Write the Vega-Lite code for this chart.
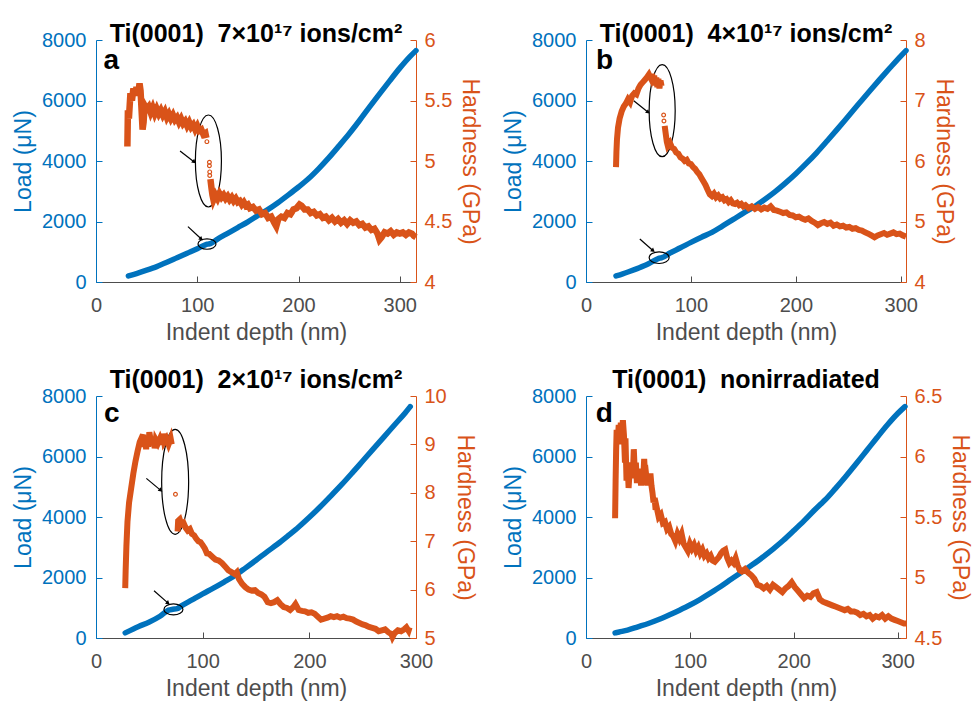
{
"$schema": "https://vega.github.io/schema/vega-lite/v6.json",
"padding": {"left": 12, "top": 22, "right": 5, "bottom": 5},
"config": {
 "view": {"stroke": null},
 "font": "Liberation Sans",
 "axis": {"grid": false, "labelFontSize": 20, "titleFontSize": 23, "titleFontWeight": "normal", "tickSize": -6, "labelPadding": 16, "domainWidth": 1, "tickWidth": 1, "titlePadding": 6, "labelFlush": false, "labelOverlap": false},
 "axisLeft": {"labelColor": "#0072BD", "domainColor": "#0072BD", "tickColor": "#0072BD", "titleColor": "#0072BD"},
 "axisRight": {"labelColor": "#D95319", "domainColor": "#D95319", "tickColor": "#D95319", "titleColor": "#D95319", "labelPadding": 14},
 "axisBottom": {"labelColor": "#4d4d4d", "domainColor": "#4d4d4d", "tickColor": "#4d4d4d", "titleColor": "#4d4d4d", "labelPadding": 19},
 "title": {"fontSize": 25, "fontWeight": "bold", "color": "black", "baseline": "alphabetic", "frame": "group", "anchor": "middle"}
},
"datasets": {
 "load": [
  {"p":"a","d":32,"L":200},{"p":"a","d":40,"L":280},{"p":"a","d":50,"L":390},{"p":"a","d":60,"L":510},{"p":"a","d":70,"L":650},{"p":"a","d":80,"L":800},{"p":"a","d":90,"L":950},{"p":"a","d":100,"L":1100},{"p":"a","d":108,"L":1230},{"p":"a","d":110,"L":1250},{"p":"a","d":113,"L":1270},{"p":"a","d":120,"L":1420},{"p":"a","d":130,"L":1610},{"p":"a","d":140,"L":1800},{"p":"a","d":150,"L":1990},{"p":"a","d":160,"L":2200},{"p":"a","d":170,"L":2400},{"p":"a","d":180,"L":2630},{"p":"a","d":190,"L":2880},{"p":"a","d":200,"L":3140},{"p":"a","d":210,"L":3420},{"p":"a","d":220,"L":3750},{"p":"a","d":230,"L":4110},{"p":"a","d":240,"L":4500},{"p":"a","d":250,"L":4900},{"p":"a","d":260,"L":5330},{"p":"a","d":270,"L":5780},{"p":"a","d":280,"L":6220},{"p":"a","d":290,"L":6650},{"p":"a","d":300,"L":7070},{"p":"a","d":310,"L":7450},{"p":"a","d":316,"L":7650},
  {"p":"b","d":28.6,"L":200},{"p":"b","d":35,"L":270},{"p":"b","d":40,"L":330},{"p":"b","d":50,"L":460},{"p":"b","d":60,"L":610},{"p":"b","d":68,"L":760},{"p":"b","d":70,"L":790},{"p":"b","d":72,"L":800},{"p":"b","d":80,"L":960},{"p":"b","d":90,"L":1130},{"p":"b","d":100,"L":1310},{"p":"b","d":110,"L":1480},{"p":"b","d":120,"L":1640},{"p":"b","d":130,"L":1850},{"p":"b","d":140,"L":2060},{"p":"b","d":150,"L":2280},{"p":"b","d":160,"L":2480},{"p":"b","d":170,"L":2720},{"p":"b","d":180,"L":2980},{"p":"b","d":190,"L":3270},{"p":"b","d":200,"L":3580},{"p":"b","d":210,"L":3920},{"p":"b","d":220,"L":4280},{"p":"b","d":230,"L":4670},{"p":"b","d":240,"L":5070},{"p":"b","d":250,"L":5480},{"p":"b","d":260,"L":5890},{"p":"b","d":270,"L":6300},{"p":"b","d":280,"L":6700},{"p":"b","d":290,"L":7090},{"p":"b","d":300,"L":7470},{"p":"b","d":305,"L":7650},
  {"p":"c","d":27.4,"L":170},{"p":"c","d":35,"L":300},{"p":"c","d":40,"L":380},{"p":"c","d":50,"L":530},{"p":"c","d":60,"L":720},{"p":"c","d":68,"L":920},{"p":"c","d":72,"L":950},{"p":"c","d":76,"L":970},{"p":"c","d":80,"L":1060},{"p":"c","d":90,"L":1260},{"p":"c","d":100,"L":1460},{"p":"c","d":110,"L":1650},{"p":"c","d":120,"L":1850},{"p":"c","d":130,"L":2060},{"p":"c","d":140,"L":2310},{"p":"c","d":150,"L":2570},{"p":"c","d":160,"L":2840},{"p":"c","d":170,"L":3100},{"p":"c","d":180,"L":3380},{"p":"c","d":190,"L":3670},{"p":"c","d":200,"L":3990},{"p":"c","d":210,"L":4330},{"p":"c","d":220,"L":4690},{"p":"c","d":230,"L":5060},{"p":"c","d":240,"L":5450},{"p":"c","d":250,"L":5850},{"p":"c","d":260,"L":6250},{"p":"c","d":270,"L":6650},{"p":"c","d":280,"L":7050},{"p":"c","d":290,"L":7450},{"p":"c","d":294.6,"L":7650},
  {"p":"d","d":28,"L":170},{"p":"d","d":32,"L":200},{"p":"d","d":40,"L":260},{"p":"d","d":50,"L":370},{"p":"d","d":60,"L":480},{"p":"d","d":70,"L":610},{"p":"d","d":80,"L":760},{"p":"d","d":90,"L":920},{"p":"d","d":100,"L":1090},{"p":"d","d":110,"L":1280},{"p":"d","d":120,"L":1490},{"p":"d","d":130,"L":1710},{"p":"d","d":140,"L":1950},{"p":"d","d":150,"L":2180},{"p":"d","d":160,"L":2420},{"p":"d","d":170,"L":2670},{"p":"d","d":180,"L":2940},{"p":"d","d":190,"L":3230},{"p":"d","d":200,"L":3550},{"p":"d","d":210,"L":3880},{"p":"d","d":220,"L":4230},{"p":"d","d":226,"L":4430},{"p":"d","d":230,"L":4560},{"p":"d","d":240,"L":4940},{"p":"d","d":250,"L":5340},{"p":"d","d":260,"L":5760},{"p":"d","d":270,"L":6190},{"p":"d","d":280,"L":6620},{"p":"d","d":290,"L":7040},{"p":"d","d":300,"L":7420},{"p":"d","d":307,"L":7650}
 ],
 "hard": [
  {"p":"a","s":1,"d":31,"H":5.12},{"p":"a","s":1,"d":31.5,"H":5.42},{"p":"a","s":1,"d":32.5,"H":5.35},{"p":"a","s":1,"d":34,"H":5.56},{"p":"a","s":1,"d":35.5,"H":5.5},{"p":"a","s":1,"d":37,"H":5.6},{"p":"a","s":1,"d":38.5,"H":5.54},{"p":"a","s":1,"d":40,"H":5.61},{"p":"a","s":1,"d":41.5,"H":5.55},{"p":"a","s":1,"d":43,"H":5.64},{"p":"a","s":1,"d":44,"H":5.58},{"p":"a","s":1,"d":45,"H":5.42},{"p":"a","s":1,"d":46,"H":5.26},{"p":"a","s":1,"d":47,"H":5.32},{"p":"a","s":1,"d":48,"H":5.46},{"p":"a","s":1,"d":50,"H":5.43},{"p":"a","s":1,"d":52,"H":5.45},{"p":"a","s":1,"d":54,"H":5.4},{"p":"a","s":1,"d":56,"H":5.44},{"p":"a","s":1,"d":58,"H":5.39},{"p":"a","s":1,"d":60,"H":5.43},{"p":"a","s":1,"d":62,"H":5.39},{"p":"a","s":1,"d":64,"H":5.42},{"p":"a","s":1,"d":66,"H":5.38},{"p":"a","s":1,"d":68,"H":5.41},{"p":"a","s":1,"d":70,"H":5.36},{"p":"a","s":1,"d":72,"H":5.39},{"p":"a","s":1,"d":74,"H":5.35},{"p":"a","s":1,"d":76,"H":5.38},{"p":"a","s":1,"d":78,"H":5.34},{"p":"a","s":1,"d":80,"H":5.36},{"p":"a","s":1,"d":82,"H":5.32},{"p":"a","s":1,"d":84,"H":5.35},{"p":"a","s":1,"d":86,"H":5.31},{"p":"a","s":1,"d":88,"H":5.33},{"p":"a","s":1,"d":90,"H":5.29},{"p":"a","s":1,"d":92,"H":5.32},{"p":"a","s":1,"d":94,"H":5.28},{"p":"a","s":1,"d":96,"H":5.3},{"p":"a","s":1,"d":98,"H":5.26},{"p":"a","s":1,"d":100,"H":5.29},{"p":"a","s":1,"d":102,"H":5.25},{"p":"a","s":1,"d":104,"H":5.26},{"p":"a","s":1,"d":106,"H":5.22},{"p":"a","s":1,"d":108,"H":5.23},{"p":"a","s":1,"d":109,"H":5.19},
  {"p":"a","s":2,"d":113,"H":4.85},{"p":"a","s":2,"d":114,"H":4.78},{"p":"a","s":2,"d":115,"H":4.72},{"p":"a","s":2,"d":116,"H":4.68},{"p":"a","s":2,"d":118,"H":4.72},{"p":"a","s":2,"d":120,"H":4.69},{"p":"a","s":2,"d":122,"H":4.73},{"p":"a","s":2,"d":124,"H":4.7},{"p":"a","s":2,"d":126,"H":4.72},{"p":"a","s":2,"d":128,"H":4.69},{"p":"a","s":2,"d":130,"H":4.71},{"p":"a","s":2,"d":132,"H":4.68},{"p":"a","s":2,"d":134,"H":4.7},{"p":"a","s":2,"d":136,"H":4.67},{"p":"a","s":2,"d":138,"H":4.69},{"p":"a","s":2,"d":140,"H":4.66},{"p":"a","s":2,"d":142,"H":4.67},{"p":"a","s":2,"d":144,"H":4.64},{"p":"a","s":2,"d":146,"H":4.66},{"p":"a","s":2,"d":148,"H":4.63},{"p":"a","s":2,"d":150,"H":4.64},{"p":"a","s":2,"d":152,"H":4.61},{"p":"a","s":2,"d":155,"H":4.62},{"p":"a","s":2,"d":158,"H":4.59},{"p":"a","s":2,"d":161,"H":4.6},{"p":"a","s":2,"d":164,"H":4.56},{"p":"a","s":2,"d":167,"H":4.57},{"p":"a","s":2,"d":170,"H":4.53},{"p":"a","s":2,"d":173,"H":4.54},{"p":"a","s":2,"d":176,"H":4.49},{"p":"a","s":2,"d":178,"H":4.46},{"p":"a","s":2,"d":180,"H":4.52},{"p":"a","s":2,"d":183,"H":4.54},{"p":"a","s":2,"d":186,"H":4.53},{"p":"a","s":2,"d":189,"H":4.57},{"p":"a","s":2,"d":192,"H":4.56},{"p":"a","s":2,"d":195,"H":4.6},{"p":"a","s":2,"d":198,"H":4.61},{"p":"a","s":2,"d":201,"H":4.64},{"p":"a","s":2,"d":203,"H":4.63},{"p":"a","s":2,"d":206,"H":4.6},{"p":"a","s":2,"d":209,"H":4.6},{"p":"a","s":2,"d":212,"H":4.57},{"p":"a","s":2,"d":215,"H":4.58},{"p":"a","s":2,"d":218,"H":4.55},{"p":"a","s":2,"d":221,"H":4.56},{"p":"a","s":2,"d":224,"H":4.53},{"p":"a","s":2,"d":227,"H":4.54},{"p":"a","s":2,"d":230,"H":4.51},{"p":"a","s":2,"d":233,"H":4.53},{"p":"a","s":2,"d":236,"H":4.5},{"p":"a","s":2,"d":239,"H":4.52},{"p":"a","s":2,"d":242,"H":4.49},{"p":"a","s":2,"d":245,"H":4.51},{"p":"a","s":2,"d":248,"H":4.48},{"p":"a","s":2,"d":251,"H":4.51},{"p":"a","s":2,"d":254,"H":4.49},{"p":"a","s":2,"d":257,"H":4.5},{"p":"a","s":2,"d":260,"H":4.47},{"p":"a","s":2,"d":263,"H":4.48},{"p":"a","s":2,"d":266,"H":4.45},{"p":"a","s":2,"d":269,"H":4.46},{"p":"a","s":2,"d":272,"H":4.43},{"p":"a","s":2,"d":275,"H":4.44},{"p":"a","s":2,"d":278,"H":4.4},{"p":"a","s":2,"d":280,"H":4.35},{"p":"a","s":2,"d":282,"H":4.37},{"p":"a","s":2,"d":285,"H":4.41},{"p":"a","s":2,"d":288,"H":4.4},{"p":"a","s":2,"d":291,"H":4.42},{"p":"a","s":2,"d":294,"H":4.39},{"p":"a","s":2,"d":297,"H":4.41},{"p":"a","s":2,"d":300,"H":4.4},{"p":"a","s":2,"d":303,"H":4.41},{"p":"a","s":2,"d":306,"H":4.39},{"p":"a","s":2,"d":309,"H":4.41},{"p":"a","s":2,"d":312,"H":4.4},{"p":"a","s":2,"d":314,"H":4.38},{"p":"a","s":2,"d":316,"H":4.37},
  {"p":"b","s":1,"d":28.6,"H":5.9},{"p":"b","s":1,"d":29,"H":6.15},{"p":"b","s":1,"d":29.5,"H":6.35},{"p":"b","s":1,"d":30.5,"H":6.55},{"p":"b","s":1,"d":32,"H":6.7},{"p":"b","s":1,"d":34,"H":6.82},{"p":"b","s":1,"d":36,"H":6.9},{"p":"b","s":1,"d":38,"H":6.95},{"p":"b","s":1,"d":40,"H":7.02},{"p":"b","s":1,"d":42,"H":6.97},{"p":"b","s":1,"d":44,"H":7.08},{"p":"b","s":1,"d":46,"H":7.12},{"p":"b","s":1,"d":48,"H":7.1},{"p":"b","s":1,"d":50,"H":7.2},{"p":"b","s":1,"d":52,"H":7.26},{"p":"b","s":1,"d":54,"H":7.3},{"p":"b","s":1,"d":56,"H":7.34},{"p":"b","s":1,"d":58,"H":7.38},{"p":"b","s":1,"d":60,"H":7.43},{"p":"b","s":1,"d":62,"H":7.36},{"p":"b","s":1,"d":63,"H":7.44},{"p":"b","s":1,"d":64,"H":7.3},{"p":"b","s":1,"d":65,"H":7.41},{"p":"b","s":1,"d":66,"H":7.25},{"p":"b","s":1,"d":67,"H":7.38},{"p":"b","s":1,"d":68,"H":7.22},{"p":"b","s":1,"d":69,"H":7.36},{"p":"b","s":1,"d":70,"H":7.2},{"p":"b","s":1,"d":71,"H":7.33},{"p":"b","s":1,"d":72,"H":7.24},
  {"p":"b","s":2,"d":75,"H":6.58},{"p":"b","s":2,"d":76,"H":6.45},{"p":"b","s":2,"d":77,"H":6.32},{"p":"b","s":2,"d":78,"H":6.25},{"p":"b","s":2,"d":80,"H":6.3},{"p":"b","s":2,"d":82,"H":6.22},{"p":"b","s":2,"d":84,"H":6.2},{"p":"b","s":2,"d":86,"H":6.14},{"p":"b","s":2,"d":88,"H":6.12},{"p":"b","s":2,"d":90,"H":6.06},{"p":"b","s":2,"d":92,"H":6.04},{"p":"b","s":2,"d":94,"H":6},{"p":"b","s":2,"d":96,"H":6.02},{"p":"b","s":2,"d":98,"H":5.96},{"p":"b","s":2,"d":100,"H":5.95},{"p":"b","s":2,"d":102,"H":5.9},{"p":"b","s":2,"d":104,"H":5.87},{"p":"b","s":2,"d":106,"H":5.82},{"p":"b","s":2,"d":108,"H":5.78},{"p":"b","s":2,"d":110,"H":5.72},{"p":"b","s":2,"d":112,"H":5.66},{"p":"b","s":2,"d":114,"H":5.6},{"p":"b","s":2,"d":116,"H":5.52},{"p":"b","s":2,"d":118,"H":5.45},{"p":"b","s":2,"d":120,"H":5.42},{"p":"b","s":2,"d":122,"H":5.46},{"p":"b","s":2,"d":124,"H":5.4},{"p":"b","s":2,"d":126,"H":5.43},{"p":"b","s":2,"d":128,"H":5.38},{"p":"b","s":2,"d":130,"H":5.4},{"p":"b","s":2,"d":132,"H":5.35},{"p":"b","s":2,"d":134,"H":5.37},{"p":"b","s":2,"d":136,"H":5.32},{"p":"b","s":2,"d":138,"H":5.35},{"p":"b","s":2,"d":140,"H":5.3},{"p":"b","s":2,"d":142,"H":5.29},{"p":"b","s":2,"d":144,"H":5.31},{"p":"b","s":2,"d":146,"H":5.27},{"p":"b","s":2,"d":148,"H":5.29},{"p":"b","s":2,"d":150,"H":5.25},{"p":"b","s":2,"d":152,"H":5.27},{"p":"b","s":2,"d":155,"H":5.22},{"p":"b","s":2,"d":158,"H":5.25},{"p":"b","s":2,"d":161,"H":5.21},{"p":"b","s":2,"d":164,"H":5.24},{"p":"b","s":2,"d":167,"H":5.2},{"p":"b","s":2,"d":170,"H":5.23},{"p":"b","s":2,"d":173,"H":5.21},{"p":"b","s":2,"d":176,"H":5.25},{"p":"b","s":2,"d":179,"H":5.19},{"p":"b","s":2,"d":182,"H":5.18},{"p":"b","s":2,"d":185,"H":5.16},{"p":"b","s":2,"d":188,"H":5.14},{"p":"b","s":2,"d":191,"H":5.15},{"p":"b","s":2,"d":194,"H":5.11},{"p":"b","s":2,"d":197,"H":5.1},{"p":"b","s":2,"d":200,"H":5.07},{"p":"b","s":2,"d":203,"H":5.08},{"p":"b","s":2,"d":206,"H":5.05},{"p":"b","s":2,"d":209,"H":5.03},{"p":"b","s":2,"d":212,"H":5.05},{"p":"b","s":2,"d":215,"H":5.01},{"p":"b","s":2,"d":218,"H":4.98},{"p":"b","s":2,"d":221,"H":4.94},{"p":"b","s":2,"d":224,"H":4.97},{"p":"b","s":2,"d":227,"H":4.99},{"p":"b","s":2,"d":230,"H":4.96},{"p":"b","s":2,"d":233,"H":4.98},{"p":"b","s":2,"d":236,"H":4.93},{"p":"b","s":2,"d":239,"H":4.95},{"p":"b","s":2,"d":242,"H":4.92},{"p":"b","s":2,"d":245,"H":4.93},{"p":"b","s":2,"d":248,"H":4.9},{"p":"b","s":2,"d":251,"H":4.91},{"p":"b","s":2,"d":254,"H":4.88},{"p":"b","s":2,"d":257,"H":4.89},{"p":"b","s":2,"d":260,"H":4.86},{"p":"b","s":2,"d":263,"H":4.85},{"p":"b","s":2,"d":266,"H":4.82},{"p":"b","s":2,"d":269,"H":4.8},{"p":"b","s":2,"d":272,"H":4.77},{"p":"b","s":2,"d":275,"H":4.74},{"p":"b","s":2,"d":278,"H":4.77},{"p":"b","s":2,"d":281,"H":4.79},{"p":"b","s":2,"d":284,"H":4.81},{"p":"b","s":2,"d":287,"H":4.78},{"p":"b","s":2,"d":290,"H":4.8},{"p":"b","s":2,"d":293,"H":4.82},{"p":"b","s":2,"d":296,"H":4.79},{"p":"b","s":2,"d":299,"H":4.8},{"p":"b","s":2,"d":302,"H":4.77},{"p":"b","s":2,"d":305,"H":4.75},
  {"p":"c","s":1,"d":27.4,"H":6.03},{"p":"c","s":1,"d":27.8,"H":6.4},{"p":"c","s":1,"d":28.5,"H":6.9},{"p":"c","s":1,"d":29.5,"H":7.4},{"p":"c","s":1,"d":31,"H":7.8},{"p":"c","s":1,"d":33,"H":8.1},{"p":"c","s":1,"d":35,"H":8.4},{"p":"c","s":1,"d":37,"H":8.65},{"p":"c","s":1,"d":39,"H":8.86},{"p":"c","s":1,"d":41,"H":9.05},{"p":"c","s":1,"d":43,"H":9.15},{"p":"c","s":1,"d":44,"H":9.2},{"p":"c","s":1,"d":45,"H":8.95},{"p":"c","s":1,"d":46,"H":9.15},{"p":"c","s":1,"d":47,"H":8.9},{"p":"c","s":1,"d":48,"H":9.18},{"p":"c","s":1,"d":49,"H":8.95},{"p":"c","s":1,"d":50,"H":9.25},{"p":"c","s":1,"d":52,"H":9.0},{"p":"c","s":1,"d":54,"H":9.15},{"p":"c","s":1,"d":55,"H":8.92},{"p":"c","s":1,"d":56,"H":9.1},{"p":"c","s":1,"d":58,"H":9.02},{"p":"c","s":1,"d":60,"H":9.12},{"p":"c","s":1,"d":62,"H":9.0},{"p":"c","s":1,"d":63,"H":9.22},{"p":"c","s":1,"d":64,"H":9.05},{"p":"c","s":1,"d":66,"H":9.12},{"p":"c","s":1,"d":68,"H":9.0},{"p":"c","s":1,"d":70,"H":9.12},{"p":"c","s":1,"d":71,"H":9.0},
  {"p":"c","s":2,"d":76.5,"H":7.2},{"p":"c","s":2,"d":77,"H":7.42},{"p":"c","s":2,"d":78.5,"H":7.45},{"p":"c","s":2,"d":80,"H":7.35},{"p":"c","s":2,"d":82,"H":7.38},{"p":"c","s":2,"d":84,"H":7.28},{"p":"c","s":2,"d":86,"H":7.22},{"p":"c","s":2,"d":88,"H":7.25},{"p":"c","s":2,"d":90,"H":7.15},{"p":"c","s":2,"d":92,"H":7.12},{"p":"c","s":2,"d":94,"H":7.05},{"p":"c","s":2,"d":96,"H":7.0},{"p":"c","s":2,"d":98,"H":6.98},{"p":"c","s":2,"d":100,"H":6.92},{"p":"c","s":2,"d":102,"H":6.85},{"p":"c","s":2,"d":104,"H":6.75},{"p":"c","s":2,"d":106,"H":6.74},{"p":"c","s":2,"d":108,"H":6.7},{"p":"c","s":2,"d":110,"H":6.66},{"p":"c","s":2,"d":112,"H":6.62},{"p":"c","s":2,"d":115,"H":6.6},{"p":"c","s":2,"d":118,"H":6.55},{"p":"c","s":2,"d":121,"H":6.48},{"p":"c","s":2,"d":124,"H":6.4},{"p":"c","s":2,"d":127,"H":6.36},{"p":"c","s":2,"d":130,"H":6.32},{"p":"c","s":2,"d":132,"H":6.36},{"p":"c","s":2,"d":134,"H":6.22},{"p":"c","s":2,"d":137,"H":6.12},{"p":"c","s":2,"d":140,"H":6.05},{"p":"c","s":2,"d":143,"H":6.0},{"p":"c","s":2,"d":146,"H":5.98},{"p":"c","s":2,"d":149,"H":5.99},{"p":"c","s":2,"d":152,"H":5.93},{"p":"c","s":2,"d":155,"H":5.9},{"p":"c","s":2,"d":158,"H":5.85},{"p":"c","s":2,"d":161,"H":5.74},{"p":"c","s":2,"d":164,"H":5.72},{"p":"c","s":2,"d":167,"H":5.74},{"p":"c","s":2,"d":170,"H":5.78},{"p":"c","s":2,"d":173,"H":5.7},{"p":"c","s":2,"d":176,"H":5.64},{"p":"c","s":2,"d":179,"H":5.62},{"p":"c","s":2,"d":182,"H":5.58},{"p":"c","s":2,"d":185,"H":5.64},{"p":"c","s":2,"d":187,"H":5.7},{"p":"c","s":2,"d":190,"H":5.58},{"p":"c","s":2,"d":193,"H":5.56},{"p":"c","s":2,"d":196,"H":5.55},{"p":"c","s":2,"d":199,"H":5.52},{"p":"c","s":2,"d":202,"H":5.53},{"p":"c","s":2,"d":205,"H":5.5},{"p":"c","s":2,"d":208,"H":5.44},{"p":"c","s":2,"d":211,"H":5.38},{"p":"c","s":2,"d":214,"H":5.4},{"p":"c","s":2,"d":217,"H":5.42},{"p":"c","s":2,"d":220,"H":5.45},{"p":"c","s":2,"d":223,"H":5.43},{"p":"c","s":2,"d":226,"H":5.45},{"p":"c","s":2,"d":229,"H":5.42},{"p":"c","s":2,"d":232,"H":5.44},{"p":"c","s":2,"d":235,"H":5.41},{"p":"c","s":2,"d":238,"H":5.4},{"p":"c","s":2,"d":241,"H":5.38},{"p":"c","s":2,"d":244,"H":5.34},{"p":"c","s":2,"d":247,"H":5.31},{"p":"c","s":2,"d":250,"H":5.28},{"p":"c","s":2,"d":253,"H":5.26},{"p":"c","s":2,"d":256,"H":5.23},{"p":"c","s":2,"d":259,"H":5.21},{"p":"c","s":2,"d":262,"H":5.19},{"p":"c","s":2,"d":265,"H":5.14},{"p":"c","s":2,"d":268,"H":5.16},{"p":"c","s":2,"d":271,"H":5.18},{"p":"c","s":2,"d":274,"H":5.12},{"p":"c","s":2,"d":277,"H":5.08},{"p":"c","s":2,"d":278,"H":5.02},{"p":"c","s":2,"d":280,"H":5.1},{"p":"c","s":2,"d":283,"H":5.16},{"p":"c","s":2,"d":286,"H":5.14},{"p":"c","s":2,"d":289,"H":5.18},{"p":"c","s":2,"d":291,"H":5.22},{"p":"c","s":2,"d":293,"H":5.15},{"p":"c","s":2,"d":294,"H":5.22},
  {"p":"d","s":1,"d":28,"H":5.49},{"p":"d","s":1,"d":28.5,"H":5.8},{"p":"d","s":1,"d":29,"H":6.05},{"p":"d","s":1,"d":29.5,"H":6.22},{"p":"d","s":1,"d":30.5,"H":6.12},{"p":"d","s":1,"d":31.5,"H":6.26},{"p":"d","s":1,"d":32.5,"H":6.1},{"p":"d","s":1,"d":33.5,"H":6.28},{"p":"d","s":1,"d":34.5,"H":6.15},{"p":"d","s":1,"d":35.5,"H":6.3},{"p":"d","s":1,"d":36.5,"H":6.18},{"p":"d","s":1,"d":37.5,"H":5.95},{"p":"d","s":1,"d":38,"H":6.15},{"p":"d","s":1,"d":39,"H":5.8},{"p":"d","s":1,"d":40,"H":5.95},{"p":"d","s":1,"d":41,"H":5.74},{"p":"d","s":1,"d":42,"H":5.88},{"p":"d","s":1,"d":43,"H":5.85},{"p":"d","s":1,"d":44,"H":5.95},{"p":"d","s":1,"d":45,"H":5.82},{"p":"d","s":1,"d":46,"H":6.06},{"p":"d","s":1,"d":47,"H":5.86},{"p":"d","s":1,"d":48,"H":5.95},{"p":"d","s":1,"d":49,"H":5.78},{"p":"d","s":1,"d":50,"H":5.9},{"p":"d","s":1,"d":51,"H":5.8},{"p":"d","s":1,"d":52,"H":5.86},{"p":"d","s":1,"d":53,"H":5.76},{"p":"d","s":1,"d":54,"H":5.88},{"p":"d","s":1,"d":55,"H":5.8},{"p":"d","s":1,"d":56,"H":5.98},{"p":"d","s":1,"d":57,"H":5.82},{"p":"d","s":1,"d":58,"H":5.84},{"p":"d","s":1,"d":59,"H":5.76},{"p":"d","s":1,"d":60,"H":5.85},{"p":"d","s":1,"d":61,"H":5.78},{"p":"d","s":1,"d":62,"H":5.86},{"p":"d","s":1,"d":63,"H":5.76},{"p":"d","s":1,"d":64,"H":5.7},{"p":"d","s":1,"d":65,"H":5.62},{"p":"d","s":1,"d":66,"H":5.66},{"p":"d","s":1,"d":67,"H":5.56},{"p":"d","s":1,"d":68,"H":5.58},{"p":"d","s":1,"d":70,"H":5.5},{"p":"d","s":1,"d":72,"H":5.52},{"p":"d","s":1,"d":74,"H":5.45},{"p":"d","s":1,"d":76,"H":5.46},{"p":"d","s":1,"d":78,"H":5.4},{"p":"d","s":1,"d":80,"H":5.42},{"p":"d","s":1,"d":82,"H":5.36},{"p":"d","s":1,"d":84,"H":5.34},{"p":"d","s":1,"d":86,"H":5.3},{"p":"d","s":1,"d":88,"H":5.36},{"p":"d","s":1,"d":90,"H":5.32},{"p":"d","s":1,"d":92,"H":5.36},{"p":"d","s":1,"d":94,"H":5.28},{"p":"d","s":1,"d":96,"H":5.25},{"p":"d","s":1,"d":98,"H":5.22},{"p":"d","s":1,"d":100,"H":5.28},{"p":"d","s":1,"d":102,"H":5.24},{"p":"d","s":1,"d":104,"H":5.27},{"p":"d","s":1,"d":106,"H":5.22},{"p":"d","s":1,"d":108,"H":5.25},{"p":"d","s":1,"d":110,"H":5.2},{"p":"d","s":1,"d":112,"H":5.23},{"p":"d","s":1,"d":114,"H":5.18},{"p":"d","s":1,"d":116,"H":5.2},{"p":"d","s":1,"d":118,"H":5.16},{"p":"d","s":1,"d":120,"H":5.18},{"p":"d","s":1,"d":122,"H":5.14},{"p":"d","s":1,"d":124,"H":5.13},{"p":"d","s":1,"d":126,"H":5.15},{"p":"d","s":1,"d":128,"H":5.17},{"p":"d","s":1,"d":130,"H":5.2},{"p":"d","s":1,"d":132,"H":5.22},{"p":"d","s":1,"d":134,"H":5.23},{"p":"d","s":1,"d":136,"H":5.16},{"p":"d","s":1,"d":138,"H":5.12},{"p":"d","s":1,"d":140,"H":5.14},{"p":"d","s":1,"d":142,"H":5.12},{"p":"d","s":1,"d":144,"H":5.16},{"p":"d","s":1,"d":146,"H":5.1},{"p":"d","s":1,"d":148,"H":5.06},{"p":"d","s":1,"d":150,"H":5.05},{"p":"d","s":1,"d":153,"H":5.07},{"p":"d","s":1,"d":156,"H":5.04},{"p":"d","s":1,"d":159,"H":5.02},{"p":"d","s":1,"d":162,"H":4.99},{"p":"d","s":1,"d":165,"H":4.94},{"p":"d","s":1,"d":168,"H":4.93},{"p":"d","s":1,"d":171,"H":4.91},{"p":"d","s":1,"d":174,"H":4.93},{"p":"d","s":1,"d":177,"H":4.9},{"p":"d","s":1,"d":180,"H":4.94},{"p":"d","s":1,"d":183,"H":4.92},{"p":"d","s":1,"d":186,"H":4.9},{"p":"d","s":1,"d":189,"H":4.88},{"p":"d","s":1,"d":192,"H":4.91},{"p":"d","s":1,"d":195,"H":4.93},{"p":"d","s":1,"d":198,"H":4.96},{"p":"d","s":1,"d":201,"H":4.92},{"p":"d","s":1,"d":204,"H":4.89},{"p":"d","s":1,"d":207,"H":4.86},{"p":"d","s":1,"d":210,"H":4.83},{"p":"d","s":1,"d":213,"H":4.85},{"p":"d","s":1,"d":216,"H":4.84},{"p":"d","s":1,"d":219,"H":4.87},{"p":"d","s":1,"d":222,"H":4.88},{"p":"d","s":1,"d":225,"H":4.82},{"p":"d","s":1,"d":228,"H":4.8},{"p":"d","s":1,"d":231,"H":4.79},{"p":"d","s":1,"d":234,"H":4.78},{"p":"d","s":1,"d":237,"H":4.77},{"p":"d","s":1,"d":240,"H":4.76},{"p":"d","s":1,"d":243,"H":4.75},{"p":"d","s":1,"d":246,"H":4.74},{"p":"d","s":1,"d":249,"H":4.73},{"p":"d","s":1,"d":252,"H":4.74},{"p":"d","s":1,"d":255,"H":4.72},{"p":"d","s":1,"d":258,"H":4.72},{"p":"d","s":1,"d":261,"H":4.71},{"p":"d","s":1,"d":264,"H":4.69},{"p":"d","s":1,"d":267,"H":4.7},{"p":"d","s":1,"d":270,"H":4.68},{"p":"d","s":1,"d":273,"H":4.69},{"p":"d","s":1,"d":276,"H":4.66},{"p":"d","s":1,"d":279,"H":4.68},{"p":"d","s":1,"d":282,"H":4.67},{"p":"d","s":1,"d":285,"H":4.69},{"p":"d","s":1,"d":288,"H":4.66},{"p":"d","s":1,"d":291,"H":4.68},{"p":"d","s":1,"d":294,"H":4.66},{"p":"d","s":1,"d":297,"H":4.65},{"p":"d","s":1,"d":300,"H":4.64},{"p":"d","s":1,"d":303,"H":4.63},{"p":"d","s":1,"d":306,"H":4.62},{"p":"d","s":1,"d":308,"H":4.62}
 ],
 "iso": [
  {"p":"a","d":109.5,"H":5.16},{"p":"a","d":112,"H":4.99},{"p":"a","d":112,"H":4.96},{"p":"a","d":112.3,"H":4.91},{"p":"a","d":112.3,"H":4.88},
  {"p":"b","d":74,"H":6.76},{"p":"b","d":74.3,"H":6.66},
  {"p":"c","d":74.5,"H":7.97}
 ],
 "ann": [
  {"p":"a","k":"big","d":111,"L":4000},{"p":"a","k":"small","d":109.6,"L":1256},{"p":"a","k":"arrow","d":83,"L":4330,"d2":97,"L2":3970},{"p":"a","k":"arrow","d":90.8,"L":1830,"d2":104,"L2":1420},{"p":"a","k":"label","d":7.5,"L":7040,"t":"a"},
  {"p":"b","k":"big","d":72.6,"L":5663},{"p":"b","k":"small","d":69.7,"L":804},{"p":"b","k":"arrow","d":45.5,"L":5994,"d2":59.2,"L2":5610},{"p":"b","k":"arrow","d":51.3,"L":1422,"d2":64,"L2":1035},{"p":"b","k":"label","d":9.5,"L":7040,"t":"b"},
  {"p":"c","k":"big","d":74.2,"L":5162},{"p":"c","k":"small","d":72.6,"L":946},{"p":"c","k":"arrow","d":47.2,"L":5276,"d2":60.7,"L2":4880},{"p":"c","k":"arrow","d":54.4,"L":1560,"d2":67.6,"L2":1152},{"p":"c","k":"label","d":7.5,"L":7140,"t":"c"},
  {"p":"d","k":"label","d":9.5,"L":7140,"t":"d"}
 ]
},
"columns": 2,
"spacing": {"row": 114, "column": 170},
"bounds": "flush",
"concat": [
 {
  "width": 320, "height": 242,
  "title": {"text": "Ti(0001)\u00a0 7×10¹⁷ ions/cm²", "offset": -17},
  "layer": [
   {"layer": [
    {"data": {"name": "load"}, "transform": [{"filter": "datum.p=='a'"}],
     "mark": {"type": "line", "color": "#0072BD", "strokeWidth": 5.5, "strokeCap": "round", "interpolate": "monotone"},
     "encoding": {"x": {"field": "d", "type": "quantitative", "scale": {"domain": [0, 316], "nice": false, "zero": false}, "axis": {"values": [0, 100, 200, 300]}, "title": "Indent depth (nm)"},
                  "y": {"field": "L", "type": "quantitative", "scale": {"domain": [0, 8000], "nice": false}, "axis": {"values": [0, 2000, 4000, 6000, 8000], "format": "d"}, "title": "Load (μN)"}}},
    {"data": {"name": "ann"}, "transform": [{"filter": "datum.p=='a' && datum.k=='big'"}],
     "mark": {"type": "point", "shape": "M0,-1C0.156,-1,0.283,-0.552,0.283,0C0.283,0.552,0.156,1,0,1C-0.156,1,-0.283,0.552,-0.283,0C-0.283,-0.552,-0.156,-1,0,-1Z", "size": 8464, "filled": false, "stroke": "black", "strokeWidth": 1.2, "opacity": 1},
     "encoding": {"x": {"field": "d", "type": "quantitative", "title": "Indent depth (nm)"}, "y": {"field": "L", "type": "quantitative", "title": "Load (μN)"}}},
    {"data": {"name": "ann"}, "transform": [{"filter": "datum.p=='a' && datum.k=='small'"}],
     "mark": {"type": "point", "shape": "M0,-0.58C0.552,-0.58,1,-0.32,1,0C1,0.32,0.552,0.58,0,0.58C-0.552,0.58,-1,0.32,-1,0C-1,-0.32,-0.552,-0.58,0,-0.58Z", "size": 324, "filled": false, "stroke": "black", "strokeWidth": 1.2, "opacity": 1},
     "encoding": {"x": {"field": "d", "type": "quantitative", "title": "Indent depth (nm)"}, "y": {"field": "L", "type": "quantitative", "title": "Load (μN)"}}},
    {"data": {"name": "ann"}, "transform": [{"filter": "datum.p=='a' && datum.k=='arrow'"}],
     "mark": {"type": "rule", "color": "black", "strokeWidth": 1.2},
     "encoding": {"x": {"field": "d", "type": "quantitative", "title": "Indent depth (nm)"}, "y": {"field": "L", "type": "quantitative", "title": "Load (μN)"}, "x2": {"field": "d2"}, "y2": {"field": "L2"}}},
    {"data": {"name": "ann"}, "transform": [{"filter": "datum.p=='a' && datum.k=='arrow'"}],
     "mark": {"type": "point", "shape": "triangle-up", "angle": 130, "size": 22, "filled": true, "color": "black", "opacity": 1},
     "encoding": {"x": {"field": "d2", "type": "quantitative", "title": "Indent depth (nm)"}, "y": {"field": "L2", "type": "quantitative", "title": "Load (μN)"}}},
    {"data": {"name": "ann"}, "transform": [{"filter": "datum.p=='a' && datum.k=='label'"}],
     "mark": {"type": "text", "fontSize": 28, "fontWeight": "bold", "align": "left", "baseline": "alphabetic", "color": "black"},
     "encoding": {"x": {"field": "d", "type": "quantitative", "title": "Indent depth (nm)"}, "y": {"field": "L", "type": "quantitative", "title": "Load (μN)"}, "text": {"field": "t"}}}
   ]},
   {"layer": [
    {"data": {"name": "hard"}, "transform": [{"filter": "datum.p=='a'"}],
     "mark": {"type": "line", "color": "#D95319", "strokeWidth": 6.5},
     "encoding": {"x": {"field": "d", "type": "quantitative", "title": "Indent depth (nm)"},
                  "y": {"field": "H", "type": "quantitative", "scale": {"domain": [4, 6], "nice": false, "zero": false}, "axis": {"orient": "right", "values": [4, 4.5, 5, 5.5, 6], "format": "~r"}, "title": "Hardness (GPa)"},
                  "detail": {"field": "s"}}},
    {"data": {"name": "iso"}, "transform": [{"filter": "datum.p=='a'"}],
     "mark": {"type": "point", "shape": "circle", "filled": false, "size": 14, "color": "#D95319", "strokeWidth": 1.2, "opacity": 1},
     "encoding": {"x": {"field": "d", "type": "quantitative", "title": "Indent depth (nm)"}, "y": {"field": "H", "type": "quantitative", "title": "Hardness (GPa)"}}}
   ]}
  ],
  "resolve": {"scale": {"y": "independent"}}
 },
 {
  "width": 320, "height": 242,
  "title": {"text": "Ti(0001)\u00a0 4×10¹⁷ ions/cm²", "offset": -17},
  "layer": [
   {"layer": [
    {"data": {"name": "load"}, "transform": [{"filter": "datum.p=='b'"}],
     "mark": {"type": "line", "color": "#0072BD", "strokeWidth": 5.5, "strokeCap": "round", "interpolate": "monotone"},
     "encoding": {"x": {"field": "d", "type": "quantitative", "scale": {"domain": [0, 305], "nice": false, "zero": false}, "axis": {"values": [0, 100, 200, 300]}, "title": "Indent depth (nm)"},
                  "y": {"field": "L", "type": "quantitative", "scale": {"domain": [0, 8000], "nice": false}, "axis": {"values": [0, 2000, 4000, 6000, 8000], "format": "d"}, "title": "Load (μN)"}}},
    {"data": {"name": "ann"}, "transform": [{"filter": "datum.p=='b' && datum.k=='big'"}],
     "mark": {"type": "point", "shape": "M0,-1C0.156,-1,0.283,-0.552,0.283,0C0.283,0.552,0.156,1,0,1C-0.156,1,-0.283,0.552,-0.283,0C-0.283,-0.552,-0.156,-1,0,-1Z", "size": 8464, "filled": false, "stroke": "black", "strokeWidth": 1.2, "opacity": 1},
     "encoding": {"x": {"field": "d", "type": "quantitative", "title": "Indent depth (nm)"}, "y": {"field": "L", "type": "quantitative", "title": "Load (μN)"}}},
    {"data": {"name": "ann"}, "transform": [{"filter": "datum.p=='b' && datum.k=='small'"}],
     "mark": {"type": "point", "shape": "M0,-0.58C0.552,-0.58,1,-0.32,1,0C1,0.32,0.552,0.58,0,0.58C-0.552,0.58,-1,0.32,-1,0C-1,-0.32,-0.552,-0.58,0,-0.58Z", "size": 400, "filled": false, "stroke": "black", "strokeWidth": 1.2, "opacity": 1},
     "encoding": {"x": {"field": "d", "type": "quantitative", "title": "Indent depth (nm)"}, "y": {"field": "L", "type": "quantitative", "title": "Load (μN)"}}},
    {"data": {"name": "ann"}, "transform": [{"filter": "datum.p=='b' && datum.k=='arrow'"}],
     "mark": {"type": "rule", "color": "black", "strokeWidth": 1.2},
     "encoding": {"x": {"field": "d", "type": "quantitative", "title": "Indent depth (nm)"}, "y": {"field": "L", "type": "quantitative", "title": "Load (μN)"}, "x2": {"field": "d2"}, "y2": {"field": "L2"}}},
    {"data": {"name": "ann"}, "transform": [{"filter": "datum.p=='b' && datum.k=='arrow'"}],
     "mark": {"type": "point", "shape": "triangle-up", "angle": 130, "size": 22, "filled": true, "color": "black", "opacity": 1},
     "encoding": {"x": {"field": "d2", "type": "quantitative", "title": "Indent depth (nm)"}, "y": {"field": "L2", "type": "quantitative", "title": "Load (μN)"}}},
    {"data": {"name": "ann"}, "transform": [{"filter": "datum.p=='b' && datum.k=='label'"}],
     "mark": {"type": "text", "fontSize": 28, "fontWeight": "bold", "align": "left", "baseline": "alphabetic", "color": "black"},
     "encoding": {"x": {"field": "d", "type": "quantitative", "title": "Indent depth (nm)"}, "y": {"field": "L", "type": "quantitative", "title": "Load (μN)"}, "text": {"field": "t"}}}
   ]},
   {"layer": [
    {"data": {"name": "hard"}, "transform": [{"filter": "datum.p=='b'"}],
     "mark": {"type": "line", "color": "#D95319", "strokeWidth": 6},
     "encoding": {"x": {"field": "d", "type": "quantitative", "title": "Indent depth (nm)"},
                  "y": {"field": "H", "type": "quantitative", "scale": {"domain": [4, 8], "nice": false, "zero": false}, "axis": {"orient": "right", "values": [4, 5, 6, 7, 8], "format": "~r"}, "title": "Hardness (GPa)"},
                  "detail": {"field": "s"}}},
    {"data": {"name": "iso"}, "transform": [{"filter": "datum.p=='b'"}],
     "mark": {"type": "point", "shape": "circle", "filled": false, "size": 14, "color": "#D95319", "strokeWidth": 1.2, "opacity": 1},
     "encoding": {"x": {"field": "d", "type": "quantitative", "title": "Indent depth (nm)"}, "y": {"field": "H", "type": "quantitative", "title": "Hardness (GPa)"}}}
   ]}
  ],
  "resolve": {"scale": {"y": "independent"}}
 },
 {
  "width": 320, "height": 242,
  "title": {"text": "Ti(0001)\u00a0 2×10¹⁷ ions/cm²", "offset": -7},
  "layer": [
   {"layer": [
    {"data": {"name": "load"}, "transform": [{"filter": "datum.p=='c'"}],
     "mark": {"type": "line", "color": "#0072BD", "strokeWidth": 5.5, "strokeCap": "round", "interpolate": "monotone"},
     "encoding": {"x": {"field": "d", "type": "quantitative", "scale": {"domain": [0, 300], "nice": false, "zero": false}, "axis": {"values": [0, 100, 200, 300]}, "title": "Indent depth (nm)"},
                  "y": {"field": "L", "type": "quantitative", "scale": {"domain": [0, 8000], "nice": false}, "axis": {"values": [0, 2000, 4000, 6000, 8000], "format": "d"}, "title": "Load (μN)"}}},
    {"data": {"name": "ann"}, "transform": [{"filter": "datum.p=='c' && datum.k=='big'"}],
     "mark": {"type": "point", "shape": "M0,-1C0.142,-1,0.257,-0.552,0.257,0C0.257,0.552,0.142,1,0,1C-0.142,1,-0.257,0.552,-0.257,0C-0.257,-0.552,-0.142,-1,0,-1Z", "size": 11025, "filled": false, "stroke": "black", "strokeWidth": 1.2, "opacity": 1},
     "encoding": {"x": {"field": "d", "type": "quantitative", "title": "Indent depth (nm)"}, "y": {"field": "L", "type": "quantitative", "title": "Load (μN)"}}},
    {"data": {"name": "ann"}, "transform": [{"filter": "datum.p=='c' && datum.k=='small'"}],
     "mark": {"type": "point", "shape": "M0,-0.58C0.552,-0.58,1,-0.32,1,0C1,0.32,0.552,0.58,0,0.58C-0.552,0.58,-1,0.32,-1,0C-1,-0.32,-0.552,-0.58,0,-0.58Z", "size": 361, "filled": false, "stroke": "black", "strokeWidth": 1.2, "opacity": 1},
     "encoding": {"x": {"field": "d", "type": "quantitative", "title": "Indent depth (nm)"}, "y": {"field": "L", "type": "quantitative", "title": "Load (μN)"}}},
    {"data": {"name": "ann"}, "transform": [{"filter": "datum.p=='c' && datum.k=='arrow'"}],
     "mark": {"type": "rule", "color": "black", "strokeWidth": 1.2},
     "encoding": {"x": {"field": "d", "type": "quantitative", "title": "Indent depth (nm)"}, "y": {"field": "L", "type": "quantitative", "title": "Load (μN)"}, "x2": {"field": "d2"}, "y2": {"field": "L2"}}},
    {"data": {"name": "ann"}, "transform": [{"filter": "datum.p=='c' && datum.k=='arrow'"}],
     "mark": {"type": "point", "shape": "triangle-up", "angle": 130, "size": 22, "filled": true, "color": "black", "opacity": 1},
     "encoding": {"x": {"field": "d2", "type": "quantitative", "title": "Indent depth (nm)"}, "y": {"field": "L2", "type": "quantitative", "title": "Load (μN)"}}},
    {"data": {"name": "ann"}, "transform": [{"filter": "datum.p=='c' && datum.k=='label'"}],
     "mark": {"type": "text", "fontSize": 28, "fontWeight": "bold", "align": "left", "baseline": "alphabetic", "color": "black"},
     "encoding": {"x": {"field": "d", "type": "quantitative", "title": "Indent depth (nm)"}, "y": {"field": "L", "type": "quantitative", "title": "Load (μN)"}, "text": {"field": "t"}}}
   ]},
   {"layer": [
    {"data": {"name": "hard"}, "transform": [{"filter": "datum.p=='c'"}],
     "mark": {"type": "line", "color": "#D95319", "strokeWidth": 6},
     "encoding": {"x": {"field": "d", "type": "quantitative", "title": "Indent depth (nm)"},
                  "y": {"field": "H", "type": "quantitative", "scale": {"domain": [5, 10], "nice": false, "zero": false}, "axis": {"orient": "right", "values": [5, 6, 7, 8, 9, 10], "format": "~r"}, "title": "Hardness (GPa)"},
                  "detail": {"field": "s"}}},
    {"data": {"name": "iso"}, "transform": [{"filter": "datum.p=='c'"}],
     "mark": {"type": "point", "shape": "circle", "filled": false, "size": 14, "color": "#D95319", "strokeWidth": 1.2, "opacity": 1},
     "encoding": {"x": {"field": "d", "type": "quantitative", "title": "Indent depth (nm)"}, "y": {"field": "H", "type": "quantitative", "title": "Hardness (GPa)"}}}
   ]}
  ],
  "resolve": {"scale": {"y": "independent"}}
 },
 {
  "width": 320, "height": 242,
  "title": {"text": "Ti(0001)\u00a0 nonirradiated", "offset": -7},
  "layer": [
   {"layer": [
    {"data": {"name": "load"}, "transform": [{"filter": "datum.p=='d'"}],
     "mark": {"type": "line", "color": "#0072BD", "strokeWidth": 5.5, "strokeCap": "round", "interpolate": "monotone"},
     "encoding": {"x": {"field": "d", "type": "quantitative", "scale": {"domain": [0, 308], "nice": false, "zero": false}, "axis": {"values": [0, 100, 200, 300]}, "title": "Indent depth (nm)"},
                  "y": {"field": "L", "type": "quantitative", "scale": {"domain": [0, 8000], "nice": false}, "axis": {"values": [0, 2000, 4000, 6000, 8000], "format": "d"}, "title": "Load (μN)"}}},
    {"data": {"name": "ann"}, "transform": [{"filter": "datum.p=='d' && datum.k=='label'"}],
     "mark": {"type": "text", "fontSize": 28, "fontWeight": "bold", "align": "left", "baseline": "alphabetic", "color": "black"},
     "encoding": {"x": {"field": "d", "type": "quantitative", "title": "Indent depth (nm)"}, "y": {"field": "L", "type": "quantitative", "title": "Load (μN)"}, "text": {"field": "t"}}}
   ]},
   {"layer": [
    {"data": {"name": "hard"}, "transform": [{"filter": "datum.p=='d'"}],
     "mark": {"type": "line", "color": "#D95319", "strokeWidth": 6},
     "encoding": {"x": {"field": "d", "type": "quantitative", "title": "Indent depth (nm)"},
                  "y": {"field": "H", "type": "quantitative", "scale": {"domain": [4.5, 6.5], "nice": false, "zero": false}, "axis": {"orient": "right", "values": [4.5, 5, 5.5, 6, 6.5], "format": "~r"}, "title": "Hardness (GPa)"},
                  "detail": {"field": "s"}}}
   ]}
  ],
  "resolve": {"scale": {"y": "independent"}}
 }
]
}
